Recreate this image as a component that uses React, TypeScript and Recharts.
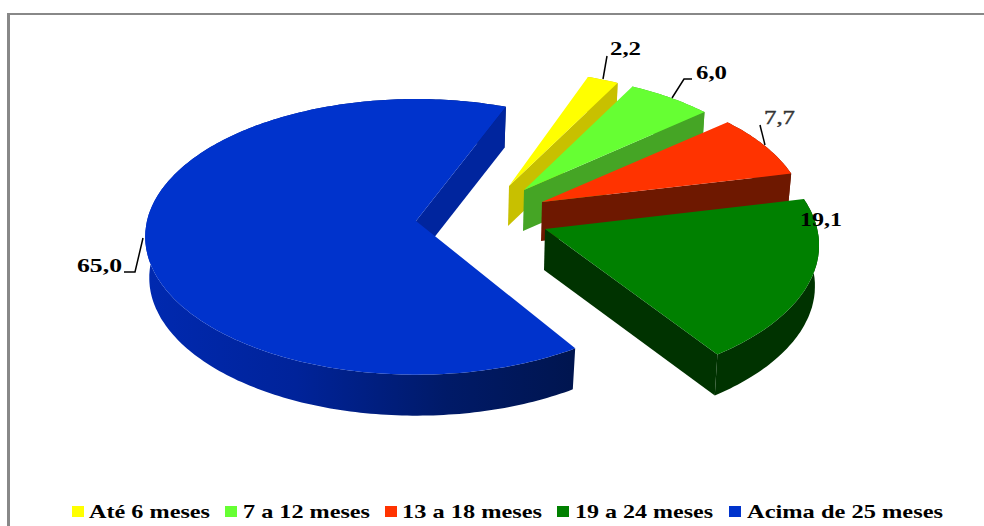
import React from 'react';
import { Legend, Pie, PieChart } from 'recharts';

const categories = ['Até 6 meses', '7 a 12 meses', '13 a 18 meses', '19 a 24 meses', 'Acima de 25 meses'];
const shares = [2.2, 6.0, 7.7, 19.1, 65.0];
const topColors = ['#ffff00', '#66ff33', '#ff3300', '#008000', '#0033cc'];
const wallColors = ['#c8c000', '#45a525', '#6e1800', '#003300', '#00259e'];

const tableData = categories.map((name, i) => ({ name, value: shares[i], fill: topColors[i] }));

// 3D look: explode offset, scale and small perspective correction of each slice
const sliceLayout = [
  { dx: 93, dy: -35, scaleX: 0.95, scaleY: 0.945, depth: 40, startAdj: 0, endAdj: 0 },
  { dx: 108, dy: -31, scaleX: 0.948, scaleY: 0.948, depth: 41, startAdj: 0, endAdj: 0 },
  { dx: 126, dy: -19, scaleX: 0.974, scaleY: 0.97, depth: 39, startAdj: 0, endAdj: 0 },
  { dx: 129, dy: 8, scaleX: 1.012, scaleY: 1.02, depth: 41, startAdj: 0, endAdj: 1 },
  { dx: 0, dy: 0, scaleX: 1, scaleY: 1, depth: 41, startAdj: -1.7, endAdj: -1.7 },
];
const labelLayout = [
  { x: 610, y: 55, w: 31, line: '603,79 607,56', color: '#000', weight: 700, halo: 0 },
  { x: 696, y: 79, w: 31, line: '672,98 684,79 692,79', color: '#000', weight: 700, halo: 0 },
  { x: 764, y: 124, w: 31, line: '765,145 760,125', color: '#333', weight: 400, halo: 0.4 },
  { x: 800, y: 226, w: 42, line: '', color: '#000', weight: 700, halo: 0 },
  { x: 77, y: 272, w: 45, line: '143,238 135,272 124,272', color: '#000', weight: 700, halo: 0 },
];
const legendLayout = [
  { box: 72, x: 89, w: 121 },
  { box: 225, x: 243, w: 127 },
  { box: 385, x: 402, w: 140 },
  { box: 557, x: 575, w: 138 },
  { box: 729, x: 747, w: 196 },
];

const ASPECT = 136 / 269;
const PERSPECTIVE = 0.115;
const BOTTOM_SHRINK = 0.985;
const SERIF = '"Liberation Serif", serif';

function project(deg: number, ax: number, ay: number, rx: number, ry: number) {
  const t = (deg * Math.PI) / 180;
  const w = 1 + PERSPECTIVE * Math.sin(t);
  return [ax + (rx * Math.cos(t)) / w, ay - (ry * Math.sin(t)) / w];
}

function arc(from: number, to: number, ax: number, ay: number, rx: number, ry: number) {
  const n = Math.max(2, Math.ceil(Math.abs(to - from)));
  const pts: number[][] = [];
  for (let i = 0; i <= n; i++) pts.push(project(from + ((to - from) * i) / n, ax, ay, rx, ry));
  return pts;
}

const toPoints = (pts: number[][]) => pts.map((p) => `${p[0].toFixed(1)},${p[1].toFixed(1)}`).join(' ');

function Slice3D(props: any) {
  const { cx, cy, outerRadius, startAngle, endAngle, fill, name } = props;
  const i = categories.indexOf(name);
  const s = sliceLayout[i];
  const ax = cx + s.dx;
  const ay = cy + s.dy;
  const rx = outerRadius * s.scaleX;
  const ry = outerRadius * ASPECT * s.scaleY;
  const from = startAngle + s.startAdj;
  const to = endAngle + s.endAdj;
  const top = arc(from, to, ax, ay, rx, ry);
  const bottom = arc(from, to, ax, ay + s.depth, rx * BOTTOM_SHRINK, ry);
  const apexBottom = [ax - 1, ay + s.depth];
  const wall = wallColors[i];
  const outerFill = i === 4 ? 'url(#blueWall)' : wall;
  return (
    <g>
      <polygon points={toPoints([...top, ...bottom.slice().reverse()])} fill={outerFill} />
      {/* only the clockwise edge of each slice faces the viewer */}
      <polygon
        points={toPoints([[ax, ay], top[top.length - 1], bottom[bottom.length - 1], apexBottom])}
        fill={wall}
      />
      <polygon points={toPoints([[ax, ay], ...top])} fill={fill} />
    </g>
  );
}

function SliceLabel(props: any) {
  const { index, value } = props;
  const l = labelLayout[index];
  return (
    <g>
      {l.line && <polyline points={l.line} fill="none" stroke="#000" strokeWidth={1.5} />}
      <text
        x={l.x}
        y={l.y}
        fill={l.color}
        stroke={l.halo ? l.color : 'none'}
        strokeWidth={l.halo}
        fontFamily={SERIF}
        fontWeight={l.weight}
        fontSize={19}
        textLength={l.w}
        lengthAdjust="spacingAndGlyphs"
      >
        {value.toFixed(1).replace('.', ',')}
      </text>
    </g>
  );
}

function LegendRow({ payload }: any) {
  return (
    <svg width={984} height={31} style={{ display: 'block' }}>
      {(payload || []).map((entry: any) => {
        const i = categories.indexOf(entry.value);
        const l = legendLayout[i];
        return (
          <g key={entry.value}>
            <rect x={l.box} y={11} width={12} height={11} fill={topColors[i]} />
            <text
              x={l.x}
              y={23}
              fontFamily={SERIF}
              fontWeight={700}
              fontSize={19}
              fill="#000"
              textLength={l.w}
              lengthAdjust="spacingAndGlyphs"
            >
              {entry.value}
            </text>
          </g>
        );
      })}
    </svg>
  );
}

export default function App() {
  return (
    <div style={{ position: 'absolute', left: 0, top: 0, width: 984, height: 526, overflow: 'hidden', background: '#fff' }}>
      <div style={{ position: 'absolute', left: 7, top: 13, width: 1100, height: 700, borderLeft: '3px solid #888', borderTop: '2px solid #888' }} />
      <PieChart width={984} height={526} margin={{ top: 0, right: 0, bottom: 0, left: 0 }} style={{ position: 'absolute', left: 0, top: 0 }}>
        <defs>
          <linearGradient id="blueWall" gradientUnits="userSpaceOnUse" x1="145" y1="0" x2="575" y2="0">
            <stop offset="0%" stopColor="#0029b0" />
            <stop offset="35%" stopColor="#00239a" />
            <stop offset="70%" stopColor="#001a68" />
            <stop offset="100%" stopColor="#00154f" />
          </linearGradient>
        </defs>
        <Pie
          data={tableData}
          dataKey="value"
          nameKey="name"
          cx={416}
          cy={221}
          innerRadius={0}
          outerRadius={269}
          startAngle={70}
          endAngle={-290}
          stroke="none"
          shape={Slice3D}
          label={SliceLabel}
          labelLine={false}
          isAnimationActive={false}
        />
        <Legend content={LegendRow} wrapperStyle={{ left: 0, top: 495, width: 984, height: 31 }} />
      </PieChart>
    </div>
  );
}
